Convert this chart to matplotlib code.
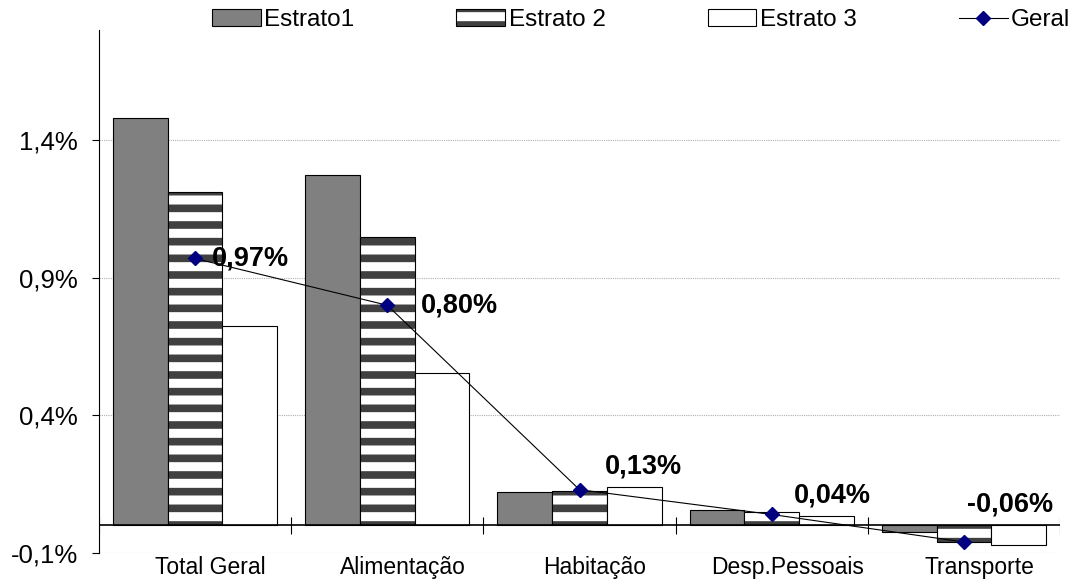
import numpy as np
import matplotlib.pyplot as plt
from matplotlib.patches import Patch
from matplotlib.lines import Line2D
from matplotlib.legend_handler import HandlerTuple

plt.rcParams['font.family'] = ['Liberation Sans', 'DejaVu Sans']
plt.rcParams['hatch.linewidth'] = 5.5

# dados (%)
categorias = ['Total Geral', 'Alimentação', 'Habitação', 'Desp.Pessoais', 'Transporte']
estrato1 = [1.48, 1.275, 0.12, 0.055, -0.025]
estrato2 = [1.21, 1.047, 0.125, 0.05, -0.06]
estrato3 = [0.725, 0.554, 0.14, 0.035, -0.07]
geral = [0.97, 0.80, 0.13, 0.04, -0.06]
rotulos_geral = ['0,97%', '0,80%', '0,13%', '0,04%', '-0,06%']
yticks = [-0.1, 0.4, 0.9, 1.4]
ytick_labels = ['-0,1%', '0,4%', '0,9%', '1,4%']

fig = plt.figure(figsize=(10.72, 5.83), dpi=100)
ax = fig.add_axes([99/1072, 1-553/583, (1060-99)/1072, (553-30)/583])

x = np.arange(len(categorias))
w = 0.285
ax.bar(x - w, estrato1, w, color='#808080', edgecolor='black', linewidth=0.8, zorder=2)
ax.bar(x, estrato2, w, color='white', edgecolor='#404040', linewidth=0, hatch='-', zorder=2)
ax.bar(x, estrato2, w, fill=False, edgecolor='black', linewidth=0.8, zorder=2)
ax.bar(x + w, estrato3, w, color='white', edgecolor='black', linewidth=0.8, zorder=2)
ax.plot(x, geral, color='black', lw=0.8, marker='D', ms=7.5, mfc='#000080', mec='#000080', zorder=4)

# rotulos da linha Geral
offs = [(12, 0), (24, 0), (18, 17), (16, 14), (2, 27)]
for xi, yi, t, o in zip(x, geral, rotulos_geral, offs):
    ax.annotate(t, (xi, yi), xytext=o, textcoords='offset points',
                ha='left', va='center', fontsize=19.5, fontweight='bold', zorder=5)

ax.axhline(0, color='black', lw=1.2, zorder=3)
ax.vlines(np.arange(len(categorias) + 1) - 0.5, -0.03, 0.03, color='black', lw=0.8, zorder=3)

ax.set_xlim(-0.5, len(categorias) - 0.5)
ax.set_ylim(-0.1, 1.8)
ax.set_yticks(yticks, ytick_labels)
ax.yaxis.grid(True, color='#b0b0b0', linestyle=(0, (1, 1)), lw=0.8)
ax.set_axisbelow(True)
ax.set_xticks(x + 0.08, categorias)
ax.tick_params(axis='x', length=0, pad=2.5, labelsize=16.5)
ax.tick_params(axis='y', direction='out', length=5, width=0.8, labelsize=18.5, pad=10)
for s in ['top', 'right', 'bottom']:
    ax.spines[s].set_visible(False)
ax.spines['left'].set_linewidth(0.8)

# legenda
h1 = Patch(facecolor='#808080', edgecolor='black', linewidth=0.8)
h2 = (Patch(facecolor='white', edgecolor='#404040', linewidth=0, hatch='-'),
      Patch(fill=False, edgecolor='black', linewidth=0.8))
h3 = Patch(facecolor='white', edgecolor='black', linewidth=0.8)
h4 = Line2D([], [], color='black', lw=0.8, marker='D', ms=7.5, mfc='#000080', mec='#000080')
fig.legend([h1, h2, h3, h4], ['Estrato1', 'Estrato 2', 'Estrato 3', 'Geral'],
           handler_map={tuple: HandlerTuple(ndivide=1)},
           loc='center left', bbox_to_anchor=(212/1072, 1-20/583), ncol=4, frameon=False,
           fontsize=17.5, handlelength=2.0, handleheight=0.7, handletextpad=0.15,
           columnspacing=4.2, borderpad=0, borderaxespad=0)

fig.savefig('out.png', dpi=100)
